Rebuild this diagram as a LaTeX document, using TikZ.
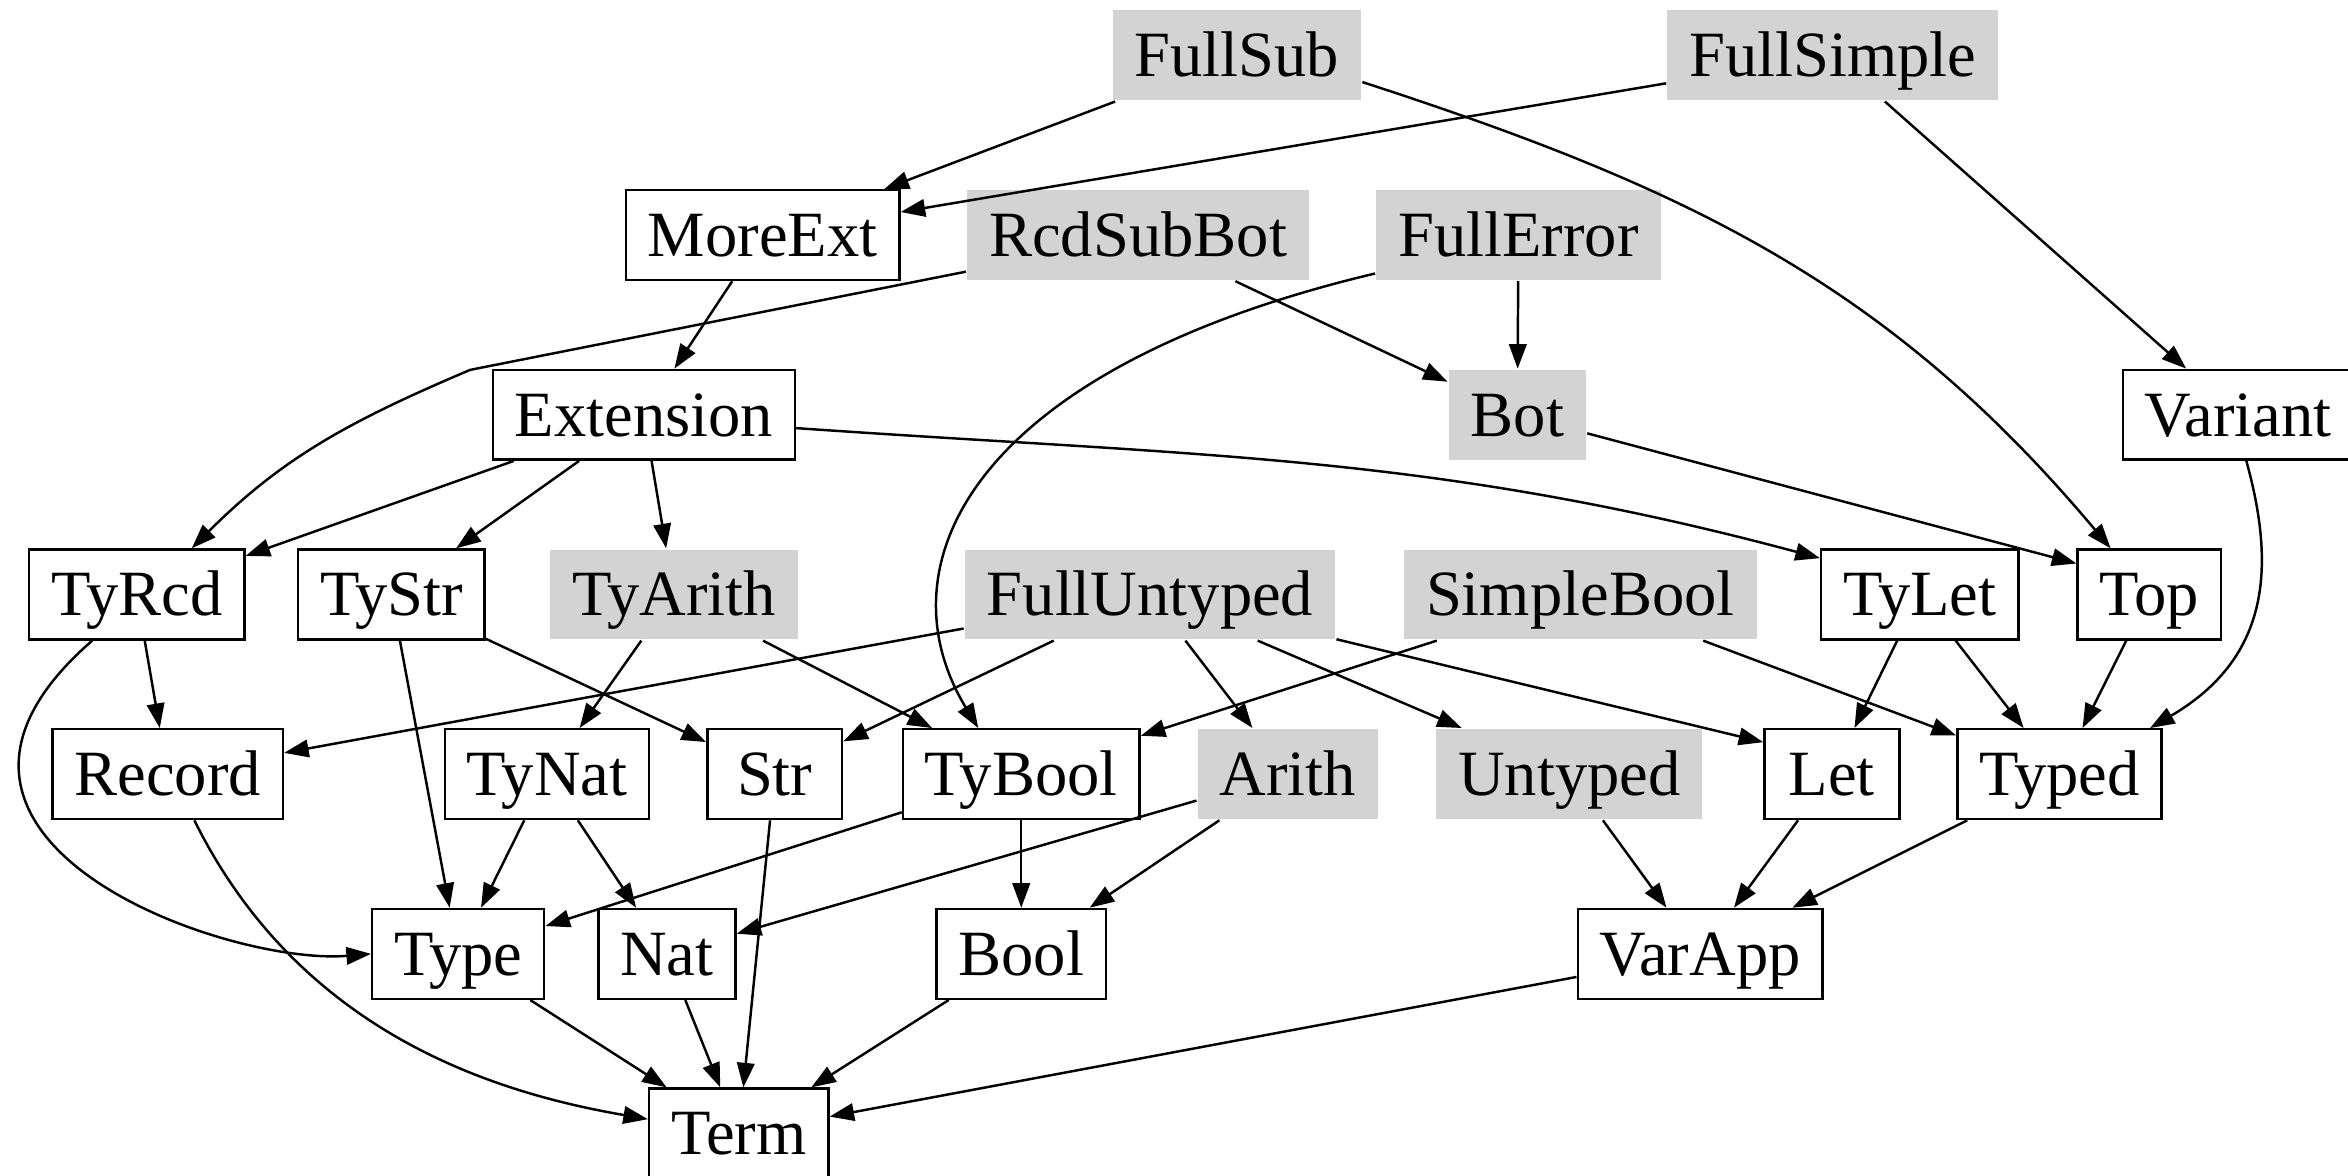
\documentclass[tikz,border=0pt]{standalone}
\usepackage{fontspec}
\setmainfont{Liberation Serif}
\usetikzlibrary{arrows.meta}
\definecolor{lightgrey}{HTML}{D3D3D3}
\tikzset{
  mod/.style={draw, rectangle, line width=0.7pt, minimum height=0.9cm, minimum width=1.35cm,
    inner xsep=0.22cm, font=\fontsize{18.4}{20}\selectfont, text height=12.2pt, text depth=0pt},
  full/.style={mod, draw=none, fill=lightgrey},
  dep/.style={-{Triangle[length=7pt,width=5pt]}, line width=0.7pt}
}
\begin{document}
\begin{tikzpicture}
\useasboundingbox (0,0) rectangle (23.52,11.775);

\node[full] (fsub) at (12.39,11.22) {FullSub};
\node[full] (fsimple) at (18.36,11.22) {FullSimple};

\node[mod] (moreext) at (7.64,9.42) {MoreExt};
\node[full] (rcdsubbot) at (11.40,9.42) {RcdSubBot};
\node[full] (ferror) at (15.21,9.42) {FullError};

\node[mod] (extension) at (6.45,7.62) {Extension};
\node[full] (bot) at (15.20,7.62) {Bot};
\node[mod] (variant) at (22.42,7.62) {Variant};

\node[mod] (tyrcd) at (1.37,5.82) {TyRcd};
\node[mod] (tystr) at (3.92,5.82) {TyStr};
\node[full] (tyarith) at (6.75,5.82) {TyArith};
\node[full] (funtyped) at (11.52,5.82) {FullUntyped};
\node[full] (simplebool) at (15.83,5.82) {SimpleBool};
\node[mod] (tylet) at (19.23,5.82) {TyLet};
\node[mod] (top) at (21.53,5.82) {Top};

\node[mod] (record) at (1.68,4.02) {Record};
\node[mod] (tynat) at (5.48,4.02) {TyNat};
\node[mod] (str) at (7.76,4.02) {Str};
\node[mod] (tybool) at (10.23,4.02) {TyBool};
\node[full] (arith) at (12.90,4.02) {Arith};
\node[full] (untyped) at (15.72,4.02) {Untyped};
\node[mod] (let) at (18.35,4.02) {Let};
\node[mod] (typed) at (20.63,4.02) {Typed};

\node[mod] (type) at (4.59,2.22) {Type};
\node[mod] (nat) at (6.68,2.22) {Nat};
\node[mod] (bool) at (10.23,2.22) {Bool};
\node[mod] (varapp) at (17.03,2.22) {VarApp};

\node[mod] (term) at (7.40,0.42) {Term};

\draw[dep] (fsub) -- (moreext);
\draw[dep] (fsimple) -- (moreext);
\draw[dep] (fsub.-12) to[out=-18, in=130] (top.130);
\draw[dep] (fsimple) -- (variant);

\draw[dep] (moreext) -- (extension);
\draw[dep] (rcdsubbot.192) -- (4.71,8.07) to[out=203, in=45] (tyrcd.40);
\draw[dep] (rcdsubbot) -- (bot);
\draw[dep] (ferror) -- (bot);
\draw[dep] (ferror.195) .. controls (9.75,8.08) and (8.8,6.13) .. (tybool.133);

\draw[dep] (extension) -- (tyrcd);
\draw[dep] (extension) -- (tystr);
\draw[dep] (extension) -- (tyarith);
\draw[dep] (extension.-5) to[out=-4, in=165] (tylet.160);
\draw[dep] (bot) -- (top.157);
\draw[dep] (variant.-80) .. controls (22.8,6.08) and (22.73,5.18) .. (typed.27);

\draw[dep] (tyrcd) -- (record);
\draw[dep] (tyrcd.-134) .. controls (-1.35,3.38) and (2.25,2.1) .. (type.west);
\draw[dep] (tystr) -- (type);
\draw[dep] (tystr) -- (str);
\draw[dep] (tyarith) -- (tynat);
\draw[dep] (tyarith) -- (tybool);
\draw[dep] (funtyped) -- (record);
\draw[dep] (funtyped) -- (str);
\draw[dep] (funtyped) -- (arith);
\draw[dep] (funtyped) -- (untyped);
\draw[dep] (funtyped) -- (let.155);
\draw[dep] (simplebool) -- (tybool);
\draw[dep] (simplebool) -- (typed);
\draw[dep] (tylet) -- (let);
\draw[dep] (tylet) -- (typed);
\draw[dep] (top) -- (typed);

\draw[dep] (record.-60) .. controls (3.0,1.43) and (4.95,0.83) .. (term.171);
\draw[dep] (tynat) -- (type);
\draw[dep] (tynat) -- (nat);
\draw[dep] (str) -- (term);
\draw[dep] (tybool) -- (type);
\draw[dep] (tybool) -- (bool);
\draw[dep] (arith) -- (nat);
\draw[dep] (arith) -- (bool);
\draw[dep] (untyped) -- (varapp);
\draw[dep] (let) -- (varapp);
\draw[dep] (typed) -- (varapp);

\draw[dep] (type) -- (term);
\draw[dep] (nat) -- (term);
\draw[dep] (bool) -- (term);
\draw[dep] (varapp) -- (term);
\end{tikzpicture}
\end{document}
